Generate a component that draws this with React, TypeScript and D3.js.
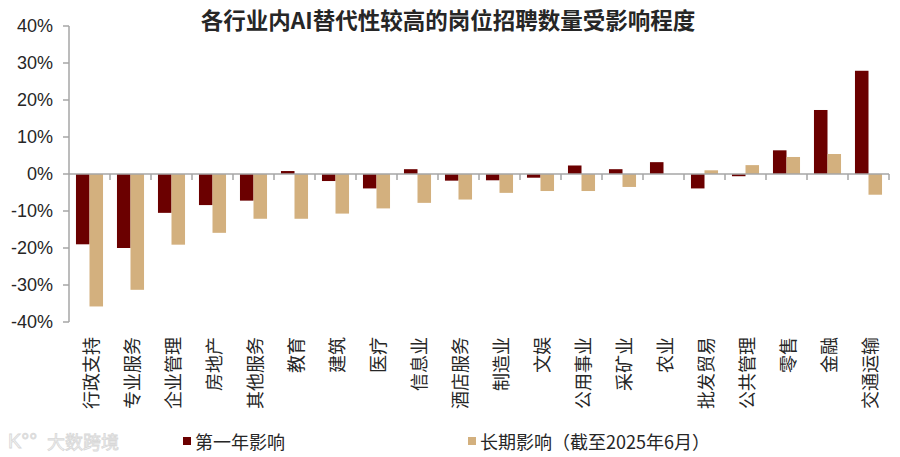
import React from "react";
import * as d3 from "d3";

const categories = [
  "行政支持", "专业服务", "企业管理", "房地产", "其他服务", "教育", "建筑", "医疗",
  "信息业", "酒店服务", "制造业", "文娱", "公用事业", "采矿业", "农业", "批发贸易",
  "公共管理", "零售", "金融", "交通运输",
];
// 第一年影响 (%)
const firstYear = [-19, -20, -10.5, -8.4, -7.2, 0.8, -1.9, -3.9, 1.3, -1.8,
  -1.7, -1.0, 2.3, 1.3, 3.2, -3.9, -0.6, 6.4, 17.3, 27.9];
// 长期影响（截至2025年6月）(%)
const longTerm = [-35.8, -31.3, -19.1, -15.9, -12.1, -12.1, -10.7, -9.3, -7.8, -6.9,
  -5.1, -4.6, -4.6, -3.5, 0, 1.0, 2.4, 4.6, 5.4, -5.6];
const yTicks = [40, 30, 20, 10, 0, -10, -20, -30, -40];
const seriesNames = ["第一年影响", "长期影响（截至2025年6月）"];

const W = 900;
const H = 457;
const DARK = "#6B0000";
const TAN = "#D3B07E";
const AXIS = "#A6A6A6";
const CJK = "'Noto Sans CJK SC', 'Noto Sans', sans-serif";
const NUM = "'Liberation Sans', Arial, sans-serif";

export default function App() {
  const x = d3.scaleBand<string>().domain(categories).range([69, 889])
    .paddingInner(0.34).paddingOuter(0.17);
  const sub = d3.scaleBand<number>().domain([0, 1]).range([0, x.bandwidth()]);
  const y = d3.scaleLinear().domain([-40, 40]).range([322, 26]);
  const step = x.step();
  const y0 = y(0);

  const bar = (v: number) => ({ y: Math.min(y(v), y0), h: Math.abs(y(v) - y0) });

  return (
    <svg width={W} height={H} style={{ position: "absolute", left: 0, top: 0, background: "#fff" }}>
      <text x={448} y={19} textAnchor="middle" dominantBaseline="central"
        fontFamily={CJK} fontWeight="bold" fontSize={22.5} fill="#262626">
        各行业内AI替代性较高的岗位招聘数量受影响程度
      </text>

      {/* y axis */}
      <line x1={69} x2={69} y1={y(40)} y2={y(-40)} stroke={AXIS} strokeWidth={1.5} />
      {yTicks.map(t => (
        <g key={t}>
          <line x1={63} x2={69} y1={y(t)} y2={y(t)} stroke={AXIS} strokeWidth={1.5} />
          <text x={53} y={y(t)} textAnchor="end" dominantBaseline="central"
            fontFamily={NUM} fontSize={18} fill="#262626">{t}%</text>
        </g>
      ))}

      {/* bars */}
      {categories.map((c, i) => {
        const b1 = bar(firstYear[i]);
        const b2 = bar(longTerm[i]);
        return (
          <g key={c} transform={`translate(${x(c)},0)`}>
            <rect x={sub(0)} y={b1.y} width={sub.bandwidth()} height={b1.h} fill={DARK} />
            <rect x={sub(1)} y={b2.y} width={sub.bandwidth()} height={b2.h} fill={TAN} />
          </g>
        );
      })}

      {/* zero axis */}
      <line x1={69} x2={889} y1={y0} y2={y0} stroke={AXIS} strokeWidth={1.5} />
      {categories.map(c => {
        const bx = (x(c) as number) - step * 0.17 + step;
        return <line key={c} x1={bx} x2={bx} y1={y0} y2={y0 + 6} stroke={AXIS} strokeWidth={1.5} />;
      })}

      {/* category labels */}
      {categories.map(c => {
        const cx = (x(c) as number) + x.bandwidth() / 2;
        return (
          <text key={c} transform={`translate(${cx},337) rotate(-90)`} textAnchor="end"
            dominantBaseline="central" fontFamily={CJK} fontSize={18} fill="#262626">
            {c}
          </text>
        );
      })}

      {/* watermark */}
      <text x={47} y={441} dominantBaseline="central" fontFamily={CJK} fontSize={18}
        fill="#f4f4f4" stroke="#d8d8d8" strokeWidth={0.8}>大数跨境</text>
      <text x={8} y={441} dominantBaseline="central" fontFamily={NUM} fontSize={20}
        fill="#f4f4f4" stroke="#d8d8d8" strokeWidth={0.8}>K°°</text>

      {/* legend */}
      {seriesNames.map((s, i) => {
        const lx = i === 0 ? 183 : 468;
        return (
          <g key={s}>
            <rect x={lx} y={437} width={8} height={8} fill={i === 0 ? DARK : TAN} />
            <text x={lx + 12} y={441} dominantBaseline="central" fontFamily={CJK}
              fontSize={18} fill="#262626">{s}</text>
          </g>
        );
      })}
    </svg>
  );
}
